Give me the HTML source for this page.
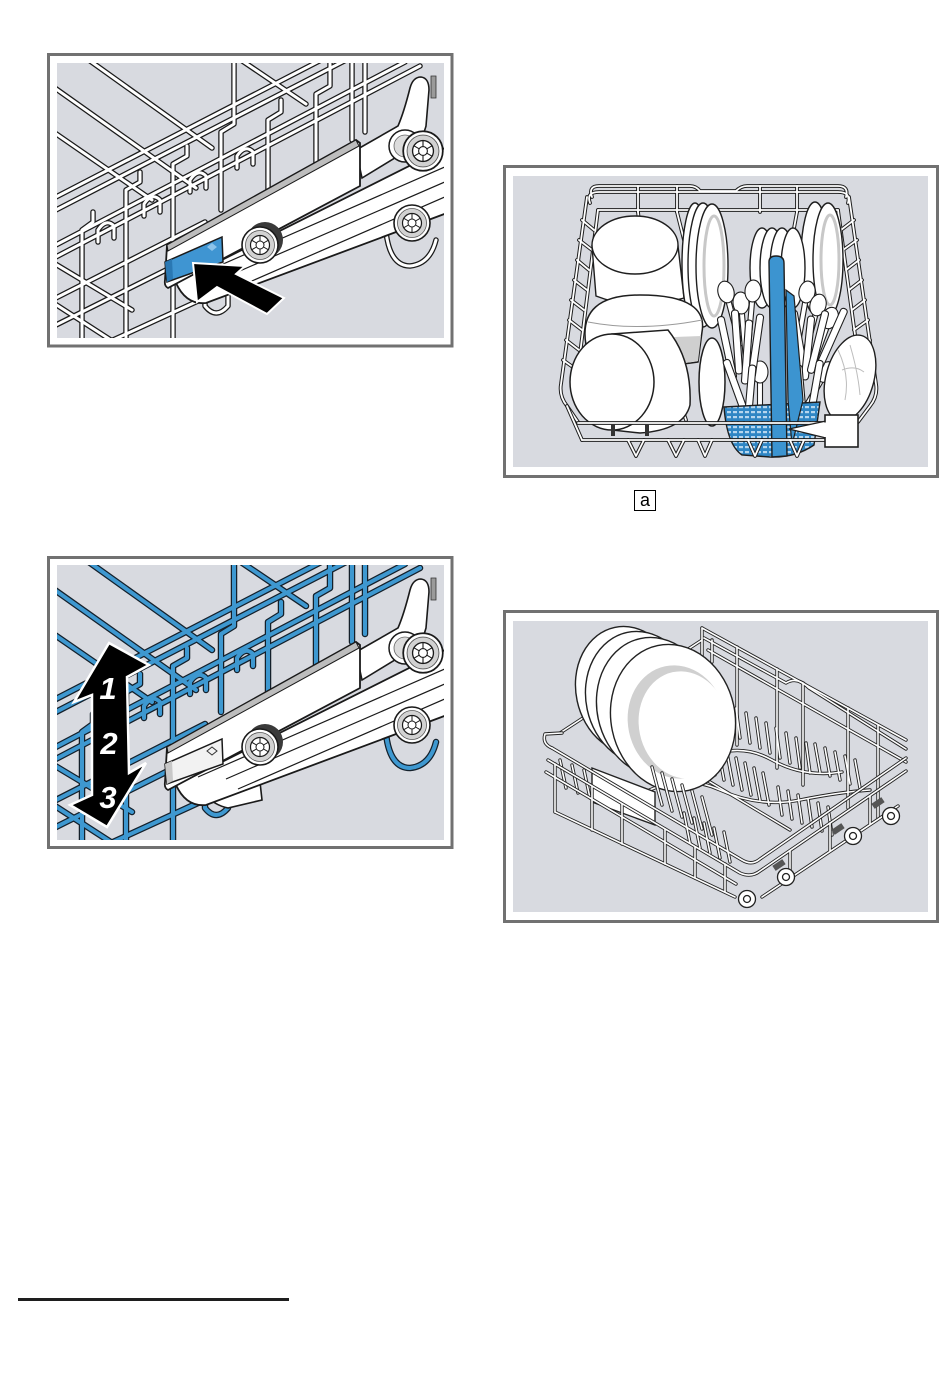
<!DOCTYPE html>
<html><head><meta charset="utf-8"><title>Dishwasher racks</title>
<style>
html,body{margin:0;padding:0;background:#fff}
body{width:950px;height:1392px;overflow:hidden;position:relative;font-family:"Liberation Sans",Arial,sans-serif}
svg{position:absolute;left:0;top:0;display:block}
</style></head><body>
<svg width="950" height="1392" viewBox="0 0 950 1392" xmlns="http://www.w3.org/2000/svg">
<defs>
<clipPath id="c1"><rect x="57" y="63" width="387" height="275"/></clipPath>
<clipPath id="c2"><rect x="513" y="176" width="415" height="291"/></clipPath>
<clipPath id="c3"><rect x="57" y="565" width="387" height="275"/></clipPath>
<clipPath id="c4"><rect x="513" y="621" width="415" height="291"/></clipPath>
<pattern id="perf" width="6" height="5" patternUnits="userSpaceOnUse">
<rect width="6" height="5" fill="#2f86c4"/><rect x="1" y="1" width="4" height="2.2" fill="#b5d6ee"/>
</pattern>

<g id="rk1">
<path d="M86,58 L212,148"/>
<path d="M52,86 L196,188"/>
<path d="M52,131 L152,200"/>
<path d="M238,58 L306,104"/>
<path d="M52,262 L132,310"/>
<path d="M52,302 L120,346"/>
<path d="M52,199 L325,58"/>
<path d="M52,212 L350,58"/>
<path d="M52,247 L405,62"/>
<path d="M52,259 L420,66"/>
<path d="M52,300 L205,222"/>
<path d="M52,327 L210,248"/>
<path d="M100,346 L235,284"/>
<path d="M93,212 V222 L82,230 V346"/>
<path d="M140,172 V182 L126,190 V346"/>
<path d="M187,146 V156 L173,164 V346"/>
<path d="M234,58 V124 L221,132 V210"/>
<path d="M281,100 V112 L268,120 V230"/>
<path d="M330,58 V86 L316,94 V170"/>
<path d="M352,58 V140"/>
<path d="M365,58 V132"/>
<path d="M98,242 V230 Q106,218 114,226 V238"/>
<path d="M144,216 V204 Q152,192 160,200 V212"/>
<path d="M190,192 V180 Q198,168 206,176 V188"/>
<path d="M237,168 V156 Q245,144 253,152 V164"/>
<path d="M205,292 V306 Q216,320 228,306 V294"/>
<path d="M386,232 Q390,266 410,266 Q430,264 436,240"/>
</g>

<g id="whl">
<circle r="18" fill="#fff" stroke="#1a1a1a" stroke-width="1.6"/>
<circle r="14.5" fill="#d2d2d2" stroke="#555" stroke-width="0.8"/>
<circle r="9.5" fill="#fff" stroke="#1a1a1a" stroke-width="1.2"/>
<circle r="4" fill="#fff" stroke="#1a1a1a" stroke-width="1"/>
<path d="M0,-9.5 V-4 M8.2,-4.7 L3.5,-2 M8.2,4.7 L3.5,2 M0,9.5 V4 M-8.2,4.7 L-3.5,2 M-8.2,-4.7 L-3.5,-2" stroke="#1a1a1a" stroke-width="1" fill="none"/>
</g>

<g id="run">
<path d="M356,150 L398,126 Q404,112 410,88 Q413,77 421,77 Q429,78 429,90 L426,126 Q422,142 408,150 L362,178 Z" fill="#fff" stroke="#1a1a1a" stroke-width="1.6"/>
<path d="M176,283 L447,147 L447,213 L206,303 Q186,305 176,283 Z" fill="#fff" stroke="#1a1a1a" stroke-width="1.8"/>
<path d="M198,275 L447,166 M226,277 L447,181 M238,287 L447,196" fill="none" stroke="#1a1a1a" stroke-width="1.2"/>
<path d="M167,245 L356,140 L360,143 L360,186 L168,288 Q164,286 165,280 Z" fill="#fff" stroke="#1a1a1a" stroke-width="1.8"/>
<path d="M167,245 L356,140 L359,146 L168,251 Z" fill="#bdbdbd" stroke="#1a1a1a" stroke-width="1"/>
<path d="M431,76 h5 v22 h-5 z" fill="#9a9a9a" stroke="#333" stroke-width="0.8"/>
<circle cx="405" cy="146" r="16" fill="#fff" stroke="#1a1a1a" stroke-width="1.5"/>
<circle cx="405" cy="146" r="11" fill="#dcdcdc" stroke="#666" stroke-width="0.8"/>
<use href="#whl" transform="translate(423,151) scale(1.1)"/>
<circle cx="265" cy="240" r="18" fill="#3a3a3a"/>
<use href="#whl" transform="translate(260,245)"/>
<use href="#whl" transform="translate(412,223)"/>
</g>

<g id="bw">
<path d="M592,197 Q588,186 599,186 L690,186 Q696,186 700,191 L736,191 Q741,186 747,186 L838,186 Q849,186 846,197"/>
<path d="M590,203 Q586,192 599,192 L838,192 Q851,192 848,203"/>
<path d="M598,210 L838,210"/>
<path d="M587,197 L561,384 Q559,396 567,406 L578,422"/>
<path d="M598,210 L576,386"/>
<path d="M849,197 L876,384 Q878,396 870,406 L858,422"/>
<path d="M838,210 L862,386"/>
<path d="M582,220 L594,230 M579,240 L592,250 M577,260 L589,270 M574,280 L587,290 M571,300 L584,310 M569,320 L582,330 M566,340 L579,350 M563,360 L577,370"/>
<path d="M854,220 L841,230 M857,240 L843,250 M859,260 L846,270 M862,280 L849,290 M865,300 L852,310 M868,320 L854,330 M870,340 L857,350 M873,360 L860,370"/>
<path d="M638,186 V212 M677,186 V212 M760,186 V212 M797,186 V212"/>
<path d="M638,212 L650,320 M797,212 L790,250 M677,212 L684,240"/>
<path d="M655,398 L664,422 M666,396 L675,422 M677,394 L686,420"/>
</g>

<g id="bf">
<path d="M578,423 L832,423"/>
<path d="M582,440 L830,440"/>
<path d="M567,406 L582,440"/>
<path d="M628,440 L636,456 L644,440 M668,440 L676,456 L684,440 M698,440 L705,456 L712,440 M748,440 L755,456 L762,440 M790,440 L797,456 L804,440"/>
</g>

<g id="w4">
<path d="M702,628 L906,740"/>
<path d="M704,638 L786,683 Q797,676 809,688 L906,749"/>
<path d="M708,650 L906,762"/>
<path d="M702,628 V658 M712,640 V662"/>
<path d="M737,647 V745 M777,669 V768 M803,683 V785 M848,708 V808 M878,725 V818"/>
<path d="M560,733 L702,640"/>
<path d="M640,795 Q680,772 720,790 T800,800 T870,790"/>
<path d="M705,758 Q740,742 772,760 T842,772"/>
<path d="M690,770 L790,830"/>
<path d="M730,733 l-4,-30 M740,738 l-4,-30 M750,743 l-4,-30 M760,748 l-4,-30 M770,753 l-4,-30 M780,758 l-4,-30 M790,763 l-4,-30 M800,768 l-4,-30 M810,773 l-4,-30"/>
<path d="M715,775 l-6,-32 M724,780 l-6,-32 M733,785 l-6,-32 M742,790 l-6,-32 M751,795 l-6,-32 M760,800 l-6,-32 M769,805 l-6,-32"/>
<path d="M820,772 l-5,-28 M830,776 l-5,-28 M840,780 l-5,-28 M850,784 l-5,-28 M860,788 l-5,-28"/>
<path d="M782,815 l-4,-28 M792,819 l-4,-28 M802,823 l-4,-28 M812,827 l-4,-28 M822,831 l-4,-28 M832,835 l-4,-28"/>
<path d="M566,788 l-6,-28 M578,793 l-6,-28 M590,798 l-6,-28 M602,803 l-6,-28"/>
</g>

<g id="w4f">
<path d="M662,805 l-10,-38 M672,811 l-10,-38 M682,817 l-10,-38 M692,823 l-10,-38 M702,829 l-10,-38 M712,835 l-10,-38"/>
<path d="M690,843 l-6,-30 M700,848 l-6,-30 M710,853 l-6,-30 M720,858 l-6,-30 M730,862 l-6,-30"/>
<path d="M552,748 L742,860 Q752,866 760,859 L906,758"/>
<path d="M548,760 L740,873 Q751,878 760,871 L906,771"/>
<path d="M546,772 L736,884"/>
<path d="M552,748 Q542,744 545,734 L562,733"/>
<path d="M555,812 L735,897 M762,897 L898,806"/>
<path d="M555,764 V812 M592,786 V830 M622,804 V844 M665,829 V864 M695,847 V878 M725,864 V892"/>
<path d="M790,851 V878 M830,823 V851 M870,796 V824"/>
</g>
</defs>

<!-- ================= PANEL 1 ================= -->
<rect x="48.5" y="54.5" width="403.5" height="291.5" fill="none" stroke="#717171" stroke-width="3"/>
<g clip-path="url(#c1)">
<rect x="57" y="63" width="387" height="275" fill="#d8dae0"/>
<g fill="none" stroke-linecap="round" stroke-linejoin="round">
<use href="#rk1" stroke="#1a1a1a" stroke-width="5.5"/>
<use href="#rk1" stroke="#fff" stroke-width="3"/>
</g>
<use href="#run"/>
<path d="M165,262 L222,237 L223,262 L167,282 Z" fill="#3f95d2" stroke="#1a1a1a" stroke-width="1.5"/>
<path d="M165,262 L172,259 L173,279 L167,282 Z" fill="#2a78b3"/>
<path d="M207,247 l5,-4 l5,4 l-5,4 z" fill="#8cc3ea"/>
<polygon points="193,263 245,266 236,274 284,298 267,314 217,287 197,302" fill="#000" stroke="#fff" stroke-width="2" stroke-linejoin="miter"/>
</g>

<!-- ================= PANEL 2 ================= -->
<rect x="504.5" y="166.5" width="433" height="310" fill="none" stroke="#717171" stroke-width="3"/>
<g clip-path="url(#c2)">
<rect x="513" y="176" width="415" height="291" fill="#d8dae0"/>
<g fill="none" stroke-linecap="round" stroke-linejoin="round">
<use href="#bw" stroke="#1e1e1e" stroke-width="3.8"/>
<use href="#bw" stroke="#fff" stroke-width="1.8"/>
</g>
<g stroke="#1e1e1e" stroke-width="1.4" fill="#fff">
<path d="M592,246 L596,296 Q636,312 684,298 L678,246 Z"/>
<ellipse cx="635" cy="245" rx="43" ry="29"/>
<ellipse cx="695" cy="264" rx="13" ry="61"/>
<ellipse cx="703" cy="265" rx="15" ry="62"/>
<ellipse cx="712" cy="266" rx="16" ry="62"/>
<ellipse cx="815" cy="258" rx="14" ry="56"/>
<ellipse cx="828" cy="260" rx="15" ry="57"/>
<ellipse cx="762" cy="268" rx="12" ry="40"/>
<ellipse cx="772" cy="268" rx="12" ry="40"/>
<ellipse cx="782" cy="268" rx="12" ry="40"/>
<ellipse cx="793" cy="268" rx="12" ry="40"/>
</g>
<ellipse cx="714" cy="266" rx="10" ry="50" fill="none" stroke="#c8c8c8" stroke-width="3"/>
<ellipse cx="830" cy="260" rx="9" ry="45" fill="none" stroke="#c8c8c8" stroke-width="3"/>
<g stroke="#1e1e1e" stroke-width="1.5" fill="#fff">
<path d="M586,345 C580,310 600,295 640,295 C690,295 706,310 702,332 L698,362 C660,368 610,366 586,345 Z"/>
</g>
<path d="M648,338 L701,336 L698,361 C675,365 660,365 648,364 Z" fill="#cfcfcf"/>
<path d="M588,322 Q640,332 702,320" stroke="#9a9a9a" fill="none" stroke-width="1"/>
<g stroke="#1e1e1e" stroke-width="1.5" fill="#fff">
<path d="M612,334 L668,330 Q692,360 690,405 Q684,430 640,433 L612,430 Z"/>
<ellipse cx="612" cy="382" rx="42" ry="48"/>
<ellipse cx="712" cy="382" rx="13" ry="44"/>
</g>
<g fill="#fff" stroke="#1e1e1e" stroke-width="1.1">
<g transform="translate(726,292) rotate(-15)"><rect x="-2.5" y="8" width="5" height="48" rx="2"/><ellipse rx="8" ry="11"/></g>
<g transform="translate(741,303) rotate(-5)"><rect x="-2.5" y="8" width="5" height="48" rx="2"/><ellipse rx="8" ry="11"/></g>
<g transform="translate(753,291) rotate(5)"><rect x="-2.5" y="8" width="5" height="48" rx="2"/><ellipse rx="8" ry="11"/></g>
<g transform="translate(807,292) rotate(10)"><rect x="-2.5" y="8" width="5" height="48" rx="2"/><ellipse rx="8" ry="11"/></g>
<g transform="translate(818,305) rotate(15)"><rect x="-2.5" y="8" width="5" height="48" rx="2"/><ellipse rx="8" ry="11"/></g>
<g transform="translate(830,318) rotate(20)"><rect x="-2.5" y="8" width="5" height="48" rx="2"/><ellipse rx="8" ry="11"/></g>
<g transform="translate(826,372) rotate(30)"><rect x="-2.5" y="8" width="5" height="40" rx="2"/><ellipse rx="8" ry="11"/></g>
<g transform="translate(760,372) rotate(0)"><rect x="-2.5" y="8" width="5" height="40" rx="2"/><ellipse rx="8" ry="11"/></g>
<rect x="-3.5" y="-32" width="7" height="64" rx="3" transform="translate(727,348) rotate(-12)"/>
<rect x="-3.5" y="-32" width="7" height="64" rx="3" transform="translate(737,342) rotate(-4)"/>
<rect x="-3.5" y="-32" width="7" height="64" rx="3" transform="translate(747,352) rotate(4)"/>
<rect x="-3.5" y="-32" width="7" height="64" rx="3" transform="translate(756,346) rotate(8)"/>
<rect x="-3.5" y="-32" width="7" height="64" rx="3" transform="translate(799,342) rotate(-10)"/>
<rect x="-3.5" y="-32" width="7" height="64" rx="3" transform="translate(808,348) rotate(6)"/>
<rect x="-3.5" y="-32" width="7" height="64" rx="3" transform="translate(818,342) rotate(14)"/>
<rect x="-3.5" y="-32" width="7" height="64" rx="3" transform="translate(832,338) rotate(24)"/>
<rect x="-3.5" y="-30" width="7" height="60" rx="3" transform="translate(736,388) rotate(-20)"/>
<rect x="-3.5" y="-30" width="7" height="60" rx="3" transform="translate(750,395) rotate(5)"/>
<rect x="-3.5" y="-30" width="7" height="60" rx="3" transform="translate(801,395) rotate(-5)"/>
<rect x="-3.5" y="-30" width="7" height="60" rx="3" transform="translate(815,390) rotate(10)"/>
</g>
<path d="M724,407 L820,402 L814,445 Q795,458 770,457 L742,455 Q727,445 724,407 Z" fill="url(#perf)" stroke="#1e1e1e" stroke-width="1.4"/>
<path d="M786,290 L794,296 L803,400 L792,445 L788,400 Z" fill="#3c94d0" stroke="#1e1e1e" stroke-width="1.2"/>
<path d="M769,262 Q769,256 776,256 Q784,256 784,263 L787,456 L772,457 Z" fill="#3c94d0" stroke="#1e1e1e" stroke-width="1.4"/>
<ellipse cx="850" cy="378" rx="24" ry="44" transform="rotate(15 850 378)" fill="#fff" stroke="#1e1e1e" stroke-width="1.4"/>
<path d="M838,350 Q850,375 845,400 M850,345 Q858,372 860,395 M842,370 Q855,365 864,372" stroke="#bdbdbd" fill="none" stroke-width="1"/>
<g fill="none" stroke-linecap="round" stroke-linejoin="round">
<use href="#bf" stroke="#1e1e1e" stroke-width="3.8"/>
<use href="#bf" stroke="#fff" stroke-width="1.8"/>
</g>
<rect x="611" y="424" width="4" height="12" fill="#333"/>
<rect x="645" y="424" width="4" height="12" fill="#333"/>
<path d="M826,421 L789,429 L826,438" fill="#fff" stroke="#1e1e1e" stroke-width="1.4"/>
<rect x="825" y="415" width="33" height="32" fill="#fff" stroke="#1e1e1e" stroke-width="1.6"/>
<rect x="824" y="422.5" width="3" height="14.5" fill="#fff"/>
</g>

<!-- label a -->
<rect x="634.5" y="490.5" width="21" height="20" fill="none" stroke="#000" stroke-width="1"/>
<text x="645" y="506" font-size="18" text-anchor="middle" font-family="Liberation Sans, sans-serif" fill="#000">a</text>

<!-- ================= PANEL 3 ================= -->
<rect x="48.5" y="557.5" width="403.5" height="290" fill="none" stroke="#717171" stroke-width="3"/>
<g clip-path="url(#c3)">
<rect x="57" y="565" width="387" height="275" fill="#d8dae0"/>
<g fill="none" stroke-linecap="round" stroke-linejoin="round" transform="translate(0,502)">
<use href="#rk1" stroke="#14202b" stroke-width="6.5"/>
<use href="#rk1" stroke="#3e98d0" stroke-width="4"/>
</g>
<g transform="translate(0,502)">
<path d="M198,268 Q200,300 228,306 L262,298 L258,262 Z" fill="#fff" stroke="#1a1a1a" stroke-width="1.6"/>
<use href="#run"/>
<path d="M165,262 L222,237 L223,262 L167,282 Z" fill="#f2f2f2" stroke="#1a1a1a" stroke-width="1.5"/>
<path d="M165,262 L172,259 L173,279 L167,282 Z" fill="#c8c8c8"/>
<path d="M207,249 l5,-4 l5,4 l-5,4 z" fill="none" stroke="#333" stroke-width="1"/>
</g>
<polygon points="109,643 149,665 127,677 129,773 146,763 107,827 70,805 92,795 92,695 74,702" fill="#000" stroke="#fff" stroke-width="2.5" stroke-linejoin="miter"/>
<g font-family="Liberation Sans, sans-serif" font-weight="bold" font-style="italic" font-size="31" fill="#fff" text-anchor="middle">
<text x="108" y="699">1</text>
<text x="109" y="754">2</text>
<text x="108" y="808">3</text>
</g>
</g>

<!-- ================= PANEL 4 ================= -->
<rect x="504.5" y="611.5" width="433" height="310" fill="none" stroke="#717171" stroke-width="3"/>
<g clip-path="url(#c4)">
<rect x="513" y="621" width="415" height="291" fill="#d8dae0"/>
<g fill="none" stroke-linecap="round" stroke-linejoin="round">
<use href="#w4" stroke="#222" stroke-width="3.4"/>
<use href="#w4" stroke="#fff" stroke-width="1.6"/>
</g>
<g stroke="#222" stroke-width="1.4" fill="#fff">
<ellipse cx="628" cy="690" rx="52" ry="64" transform="rotate(-12 628 690)"/>
<ellipse cx="641" cy="698" rx="55" ry="67" transform="rotate(-12 641 698)"/>
<ellipse cx="655" cy="707" rx="58" ry="70" transform="rotate(-12 655 707)"/>
<ellipse cx="673" cy="718" rx="62" ry="74" transform="rotate(-12 673 718)"/>
</g>
<ellipse cx="677" cy="722" rx="49" ry="57" transform="rotate(-12 677 722)" fill="#d0d0d0"/>
<ellipse cx="684" cy="725" rx="45" ry="54" transform="rotate(-12 684 725)" fill="#fff"/>
<path d="M592,768 L655,792 L655,825 L592,802 Z" fill="#fff" stroke="#222" stroke-width="1.4"/>
<g fill="none" stroke-linecap="round" stroke-linejoin="round">
<use href="#w4f" stroke="#222" stroke-width="3.4"/>
<use href="#w4f" stroke="#fff" stroke-width="1.6"/>
</g>
<g fill="#555">
<rect x="773" y="862" width="12" height="6" transform="rotate(-34 779 865)"/>
<rect x="832" y="826" width="12" height="6" transform="rotate(-34 838 829)"/>
<rect x="872" y="800" width="12" height="6" transform="rotate(-34 878 803)"/>
</g>
<g fill="#fff" stroke="#222" stroke-width="1.3">
<circle cx="747" cy="899" r="8.5"/><circle cx="747" cy="899" r="3.5"/>
<circle cx="786" cy="877" r="8.5"/><circle cx="786" cy="877" r="3.5"/>
<circle cx="853" cy="836" r="8.5"/><circle cx="853" cy="836" r="3.5"/>
<circle cx="891" cy="816" r="8.5"/><circle cx="891" cy="816" r="3.5"/>
</g>
</g>

<!-- footnote rule -->
<rect x="18" y="1298" width="271" height="3" fill="#1e1e1e"/>
</svg>
</body></html>
